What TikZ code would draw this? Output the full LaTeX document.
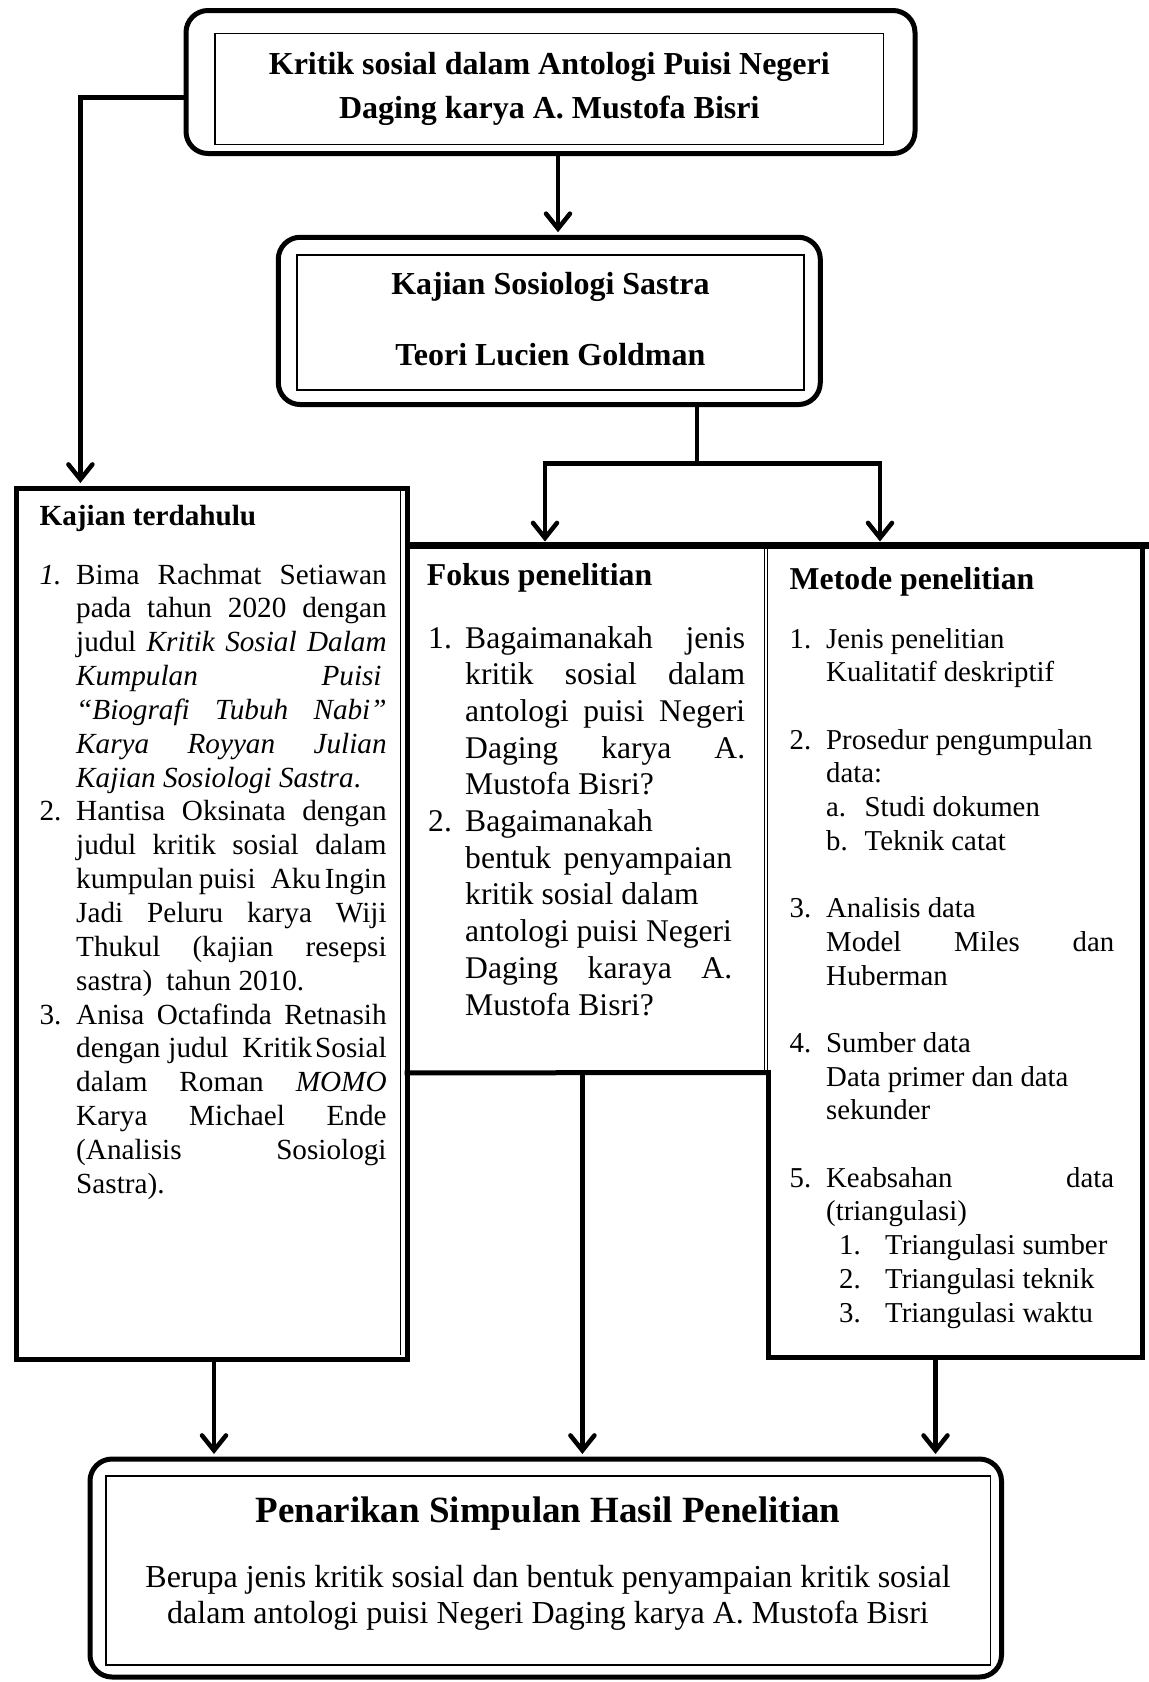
\documentclass[tikz,border=0pt]{standalone}
\usepackage{fontspec}
\setmainfont{Liberation Serif}
\usetikzlibrary{arrows.meta}
\newlength\numw
\newlength\txtw
\newcommand{\Ln}[3][s]{\noindent\makebox[\numw][l]{#2}\makebox[\txtw][#1]{#3}\hfill\par}
\newcommand{\Lx}[3][s]{\noindent\hspace*{\numw}\makebox[#2][#1]{#3}\hfill\par}
\newcommand{\Lsub}[4]{\noindent\hspace*{#1}\makebox[#2][l]{#3}#4\hfill\par}
\begin{document}
\begin{tikzpicture}[x=1pt,y=-1pt,
  outerbox/.style={draw, line width=5pt, rounded corners=22pt, inner sep=0pt},
  innerbox/.style={draw, line width=1.3pt, inner sep=0pt},
  conn/.style={line width=4.5pt, -{Straight Barb[length=15pt,width=24pt,line cap=round]}},
  plain/.style={line width=4.5pt},
  thickrule/.style={line width=5pt},
  thinrule/.style={line width=1pt},
  ttl/.style={font=\fontsize{32}{38}\selectfont\bfseries, inner sep=0pt, anchor=base},
  txt/.style={inner sep=0pt, anchor=base west},
  region/.style={inner sep=0pt, anchor=north west},
]
\useasboundingbox (0,0) rectangle (1149,1682);

% top box
\node[outerbox, minimum width=729pt, minimum height=143pt] (top) at (550.5,82) {};
\node[innerbox, minimum width=668.6pt, minimum height=111pt] (topin) at (549.3,88.8) {};
\node[ttl] (t1) at (549.3,74) {Kritik sosial dalam Antologi Puisi Negeri};
\node[ttl] (t2) at (549.3,118.3) {Daging karya A. Mustofa Bisri};

% second box
\node[outerbox, minimum width=542pt, minimum height=167.3pt] (kss) at (549.3,320.9) {};
\node[innerbox, minimum width=507pt, minimum height=135pt] (kssin) at (550.4,322.5) {};
\node[ttl] (k1) at (550.4,294) {Kajian Sosiologi Sastra};
\node[ttl] (k2) at (550.4,365) {Teori Lucien Goldman};

% Kajian terdahulu box
\node[region, draw, line width=5pt, minimum width=391pt, minimum height=871.5pt] (kaj) at (13.5,485.5) {};
\draw[thinrule] (400,488) -- (400,1354.5);

% Fokus and Metode regions
\node[region, minimum width=361.5pt, minimum height=527.5pt] (fokus) at (404.5,545) {};
\node[region, minimum width=376pt, minimum height=812pt] (metode) at (766,545) {};
\draw[line width=7pt] (fokus.north west) -- (1149,545);
\draw[thickrule] (fokus.south west) -- (770.5,1072.5);
\draw[thinrule] (764,548.5) -- (764,1070);
\draw[thinrule] (767.5,548.5) -- (767.5,1070);
\draw[thickrule] (768,1070) -- (768,1359.5);
\draw[thickrule] (1142,541.5) -- (1142,1359.5);
\draw[thickrule] (765.5,1357) -- (1144.5,1357);

% Kajian terdahulu text
\node[txt, font=\fontsize{29.2}{34}\selectfont\bfseries] (kajT) at (39.4,525) {Kajian terdahulu};
\node[txt] (kajL) at (39.4,584) {\setlength\numw{36.6pt}\setlength\txtw{310.4pt}\parbox[t]{347pt}{\fontsize{29.2}{33.85}\selectfont
\Ln{\textit{1.}}{Bima Rachmat Setiawan}
\Ln{}{pada tahun 2020 dengan}
\Ln{}{judul \textit{Kritik Sosial Dalam}}
\Ln{}{\textit{Kumpulan Puisi}\hspace{5pt}}
\Ln{}{\textit{``Biografi Tubuh Nabi''}}
\Ln{}{\textit{Karya Royyan Julian}}
\Ln[l]{}{\textit{Kajian Sosiologi Sastra}.}
\Ln{2.}{Hantisa Oksinata dengan}
\Ln{}{judul kritik sosial dalam}
\Ln{}{kumpulan puisi \hspace{9pt}Aku\hspace{4pt}Ingin}
\Ln{}{Jadi Peluru karya Wiji}
\Ln{}{Thukul (kajian resepsi}
\Ln[l]{}{sastra)\hspace{14pt}tahun 2010.}
\Ln{3.}{Anisa Octafinda Retnasih}
\Ln{}{dengan judul \hspace{6pt}Kritik\hspace{3pt}Sosial}
\Ln{}{dalam Roman \textit{MOMO}}
\Ln{}{Karya Michael Ende}
\Ln{}{(Analisis Sosiologi}
\Ln[l]{}{Sastra).}}};

% Fokus text
\node[txt, font=\fontsize{31.8}{38}\selectfont\bfseries] (fokT) at (426.7,585) {Fokus penelitian};
\node[txt] (fokL) at (428,648) {\setlength\numw{37pt}\setlength\txtw{280pt}\parbox[t]{317pt}{\fontsize{31.6}{36.7}\selectfont
\Ln{1.}{Bagaimanakah jenis}
\Ln{}{kritik sosial dalam}
\Ln{}{antologi puisi Negeri}
\Ln{}{Daging karya A.}
\Ln[l]{}{Mustofa Bisri?}
\Ln[l]{2.}{Bagaimanakah}
\Lx{267pt}{bentuk penyampaian}
\Ln[l]{}{kritik sosial dalam}
\Ln[l]{}{antologi puisi Negeri}
\Lx{267pt}{Daging karaya A.}
\Ln[l]{}{Mustofa Bisri?}}};

% Metode text
\node[txt, font=\fontsize{31.8}{38}\selectfont\bfseries] (metT) at (789.5,589) {Metode penelitian};
\node[txt] (metL) at (789.5,648) {\setlength\numw{36.5pt}\setlength\txtw{288pt}\parbox[t]{324.5pt}{\fontsize{28.8}{33.7}\selectfont
\Ln[l]{1.}{Jenis penelitian}
\Ln[l]{}{Kualitatif deskriptif}
\Ln[l]{}{}
\Ln[l]{2.}{Prosedur pengumpulan}
\Ln[l]{}{data:}
\Lsub{\numw}{38.5pt}{a.}{Studi dokumen}
\Lsub{\numw}{38.5pt}{b.}{Teknik catat}
\Ln[l]{}{}
\Ln[l]{3.}{Analisis data}
\Ln{}{Model Miles dan}
\Ln[l]{}{Huberman}
\Ln[l]{}{}
\Ln[l]{4.}{Sumber data}
\Ln[l]{}{Data primer dan data}
\Ln[l]{}{sekunder}
\Ln[l]{}{}
\Ln{5.}{Keabsahan data}
\Ln[l]{}{(triangulasi)}
\Lsub{49.5pt}{46pt}{1.}{Triangulasi sumber}
\Lsub{49.5pt}{46pt}{2.}{Triangulasi teknik}
\Lsub{49.5pt}{46pt}{3.}{Triangulasi waktu}}};

% bottom box
\node[outerbox, minimum width=911.5pt, minimum height=218pt] (bot) at (545.75,1568) {};
\node[innerbox, minimum width=884.5pt, minimum height=189pt] (botin) at (548.25,1570.5) {};
\node[inner sep=0pt, anchor=base, font=\fontsize{37}{44}\selectfont\bfseries] (b1) at (548,1522) {Penarikan Simpulan Hasil Penelitian};
\node[inner sep=0pt, anchor=base, font=\fontsize{32}{38}\selectfont] (b2) at (548,1587) {Berupa jenis kritik sosial dan bentuk penyampaian kritik sosial};
\node[inner sep=0pt, anchor=base, font=\fontsize{32}{38}\selectfont] (b3) at (548,1623) {dalam antologi puisi Negeri Daging karya A. Mustofa Bisri};

% connectors
\coordinate (xL) at (80.4,97.3);
\draw[conn, shorten >=2.5pt] (top.west |- xL) -- (xL) -- (xL |- kaj.north);
\coordinate (xT) at (558,0);
\draw[conn, shorten >=2.5pt] (top.south -| xT) -- (kss.north -| xT);
\coordinate (sp) at (697,463.6);
\coordinate (jF) at (545,463.6);
\coordinate (jM) at (880,463.6);
\draw[plain] (kss.south -| sp) -- (sp);
\draw[conn, shorten >=3.5pt] (sp) -- (jF) -- (jF |- fokus.north);
\draw[conn, shorten >=3.5pt] (sp) -- (jM) -- (jM |- fokus.north);
\coordinate (c1) at (214,0);
\coordinate (c2) at (582.4,0);
\coordinate (c3) at (935.5,0);
\draw[conn, shorten >=2.5pt] (kaj.south -| c1) -- (bot.north -| c1);
\draw[conn, shorten >=2.5pt] (fokus.south -| c2) -- (bot.north -| c2);
\draw[conn, shorten >=2.5pt] (metode.south -| c3) -- (bot.north -| c3);
\end{tikzpicture}
\end{document}
